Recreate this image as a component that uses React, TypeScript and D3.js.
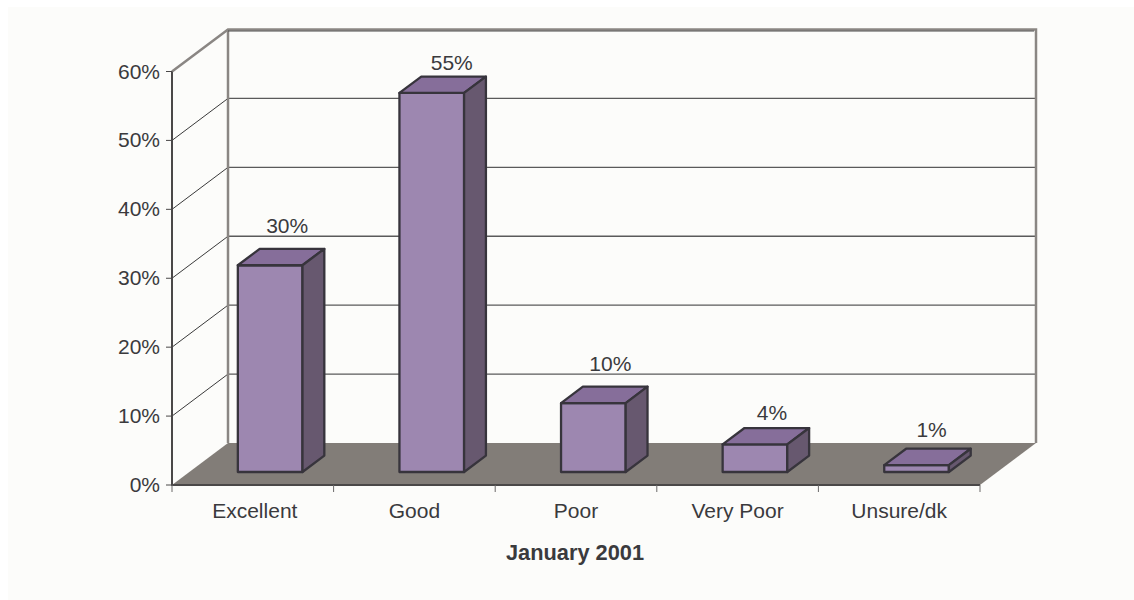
import { useEffect, useRef } from "react";
import * as d3 from "d3";

const categories = ["Excellent", "Good", "Poor", "Very Poor", "Unsure/dk"];
const values = [30, 55, 10, 4, 1];
const yTicks = [0, 10, 20, 30, 40, 50, 60];
const axisTitle = "January 2001";

const font = "'Liberation Sans', Arial, sans-serif";
const textColor = "#3a3a3d";

// the labels don't sit at a fixed distance from the bars in the original
const labelLift = [16, 7, 16, 8, 12];
const labelShift = [17, 20, 17, 17, 15];

const App = () => {
  const svgRef = useRef<SVGSVGElement | null>(null);

  useEffect(() => {
    const svg = d3.select(svgRef.current);
    svg.selectAll("*").remove();

    // oblique projection of the chart box
    const depth = { x: 56, y: -42 };
    const barDepth = { start: 0.31, end: 0.7 };

    const x = d3
      .scaleBand()
      .domain(categories)
      .range([172, 980])
      .paddingInner(0.6)
      .paddingOuter(0.3);
    const band = d3.scaleBand().domain(categories).range([172, 980]);
    const y = d3.scaleLinear().domain([0, 60]).range([485, 71.5]);

    const path = (pts: [number, number][]) => d3.line()(pts) + "Z";
    const at = (px: number, py: number, d: number): [number, number] => [
      px + depth.x * d,
      py + depth.y * d,
    ];

    svg
      .append("rect")
      .attr("x", 8)
      .attr("y", 7)
      .attr("width", 1126)
      .attr("height", 593)
      .attr("fill", "#fcfcfa");

    // floor
    svg
      .append("path")
      .attr(
        "d",
        path([at(172, y(0), 0), at(980, y(0), 0), at(980, y(0), 1), at(172, y(0), 1)]),
      )
      .attr("fill", "#827d78");

    // back wall gridlines
    svg
      .append("g")
      .selectAll("line")
      .data(yTicks.slice(1, -1))
      .join("line")
      .attr("x1", at(172, 0, 1)[0])
      .attr("x2", at(980, 0, 1)[0])
      .attr("y1", (d) => at(0, y(d), 1)[1])
      .attr("y2", (d) => at(0, y(d), 1)[1])
      .attr("stroke", "#5a5a5a")
      .attr("stroke-width", 1.4);

    // side wall gridlines
    svg
      .append("g")
      .selectAll("line")
      .data(yTicks.slice(1, -1))
      .join("line")
      .attr("x1", 172)
      .attr("y1", (d) => y(d))
      .attr("x2", at(172, 0, 1)[0])
      .attr("y2", (d) => at(0, y(d), 1)[1])
      .attr("stroke", "#3a3a3a")
      .attr("stroke-width", 1);

    // wall frame
    svg
      .append("path")
      .attr(
        "d",
        d3.line()([
          at(172, y(60), 0),
          at(172, y(60), 1),
          at(980, y(60), 1),
          at(980, y(0), 1),
        ]),
      )
      .attr("fill", "none")
      .attr("stroke", "#8a8683")
      .attr("stroke-width", 2.5);
    svg
      .append("path")
      .attr("d", d3.line()([at(172, y(60), 1), at(172, y(0), 1)]))
      .attr("stroke", "#8a8683")
      .attr("stroke-width", 2.5);
    svg
      .append("path")
      .attr("d", d3.line()([at(172, y(60) + 1.5, 1), at(978, y(60) + 1.5, 1)]))
      .attr("stroke", "#4a4a4a")
      .attr("stroke-width", 1);

    // bars
    const barData = categories.map((c, i) => ({ c, v: values[i], i }));
    const bars = svg
      .append("g")
      .selectAll("g")
      .data(barData)
      .join("g")
      .attr("stroke", "#37343c")
      .attr("stroke-width", 2.3)
      .attr("stroke-linejoin", "round");

    const x0 = (d: { c: string }) => at(x(d.c) || 0, 0, barDepth.start)[0];
    const x1 = (d: { c: string }) => x0(d) + x.bandwidth();
    const yb = at(0, y(0), barDepth.start)[1];
    const top = (d: { v: number }) => at(0, y(d.v), barDepth.start)[1];
    const dx = depth.x * (barDepth.end - barDepth.start);
    const dy = depth.y * (barDepth.end - barDepth.start);

    bars
      .append("path")
      .attr("d", (d) =>
        path([
          [x0(d), yb],
          [x1(d), yb],
          [x1(d), top(d)],
          [x0(d), top(d)],
        ]),
      )
      .attr("fill", "#9d87b0");
    bars
      .append("path")
      .attr("d", (d) =>
        path([
          [x0(d), top(d)],
          [x1(d), top(d)],
          [x1(d) + dx, top(d) + dy],
          [x0(d) + dx, top(d) + dy],
        ]),
      )
      .attr("fill", "#866e9a");
    bars
      .append("path")
      .attr("d", (d) =>
        path([
          [x1(d), yb],
          [x1(d) + dx, yb + dy],
          [x1(d) + dx, top(d) + dy],
          [x1(d), top(d)],
        ]),
      )
      .attr("fill", "#67586f");

    // value labels
    svg
      .append("g")
      .selectAll("text")
      .data(barData)
      .join("text")
      .attr("x", (d) => x0(d) + x.bandwidth() / 2 + labelShift[d.i])
      .attr("y", (d) => top(d) + dy - labelLift[d.i])
      .attr("text-anchor", "middle")
      .attr("font-family", font)
      .attr("font-size", 21)
      .attr("fill", textColor)
      .text((d) => `${d.v}%`);

    // front axes
    svg
      .append("path")
      .attr("d", d3.line()([[172, y(60)], [172, y(0)], [980, y(0)]]))
      .attr("fill", "none")
      .attr("stroke", "#4a4848")
      .attr("stroke-width", 2);

    svg
      .append("g")
      .selectAll("line")
      .data(yTicks)
      .join("line")
      .attr("x1", 166)
      .attr("x2", 172)
      .attr("y1", (d) => y(d))
      .attr("y2", (d) => y(d))
      .attr("stroke", "#4a4848")
      .attr("stroke-width", 1);

    svg
      .append("g")
      .selectAll("text")
      .data(yTicks)
      .join("text")
      .attr("x", 160)
      .attr("y", (d) => y(d) + 7)
      .attr("text-anchor", "end")
      .attr("font-family", font)
      .attr("font-size", 21)
      .attr("fill", textColor)
      .text((d) => `${d}%`);

    const xEdges = [...categories.map((c) => band(c) || 0), 980];
    svg
      .append("g")
      .selectAll("line")
      .data(xEdges)
      .join("line")
      .attr("x1", (d) => d)
      .attr("x2", (d) => d)
      .attr("y1", y(0))
      .attr("y2", y(0) + 7)
      .attr("stroke", "#6a6868")
      .attr("stroke-width", 1);

    svg
      .append("g")
      .selectAll("text")
      .data(categories)
      .join("text")
      .attr("x", (d) => (band(d) || 0) + band.bandwidth() / 2 + (d === "Excellent" ? 2 : 0))
      .attr("y", 518)
      .attr("text-anchor", "middle")
      .attr("font-family", font)
      .attr("font-size", 21)
      .attr("fill", textColor)
      .text((d) => d);

    svg
      .append("text")
      .attr("x", 575)
      .attr("y", 560)
      .attr("text-anchor", "middle")
      .attr("font-family", font)
      .attr("font-size", 21.8)
      .attr("font-weight", "bold")
      .attr("fill", textColor)
      .text(axisTitle);
  }, []);

  return (
    <svg
      ref={svgRef}
      width={1134}
      height={600}
      style={{ position: "absolute", left: 0, top: 0 }}
    />
  );
};

export default App;
